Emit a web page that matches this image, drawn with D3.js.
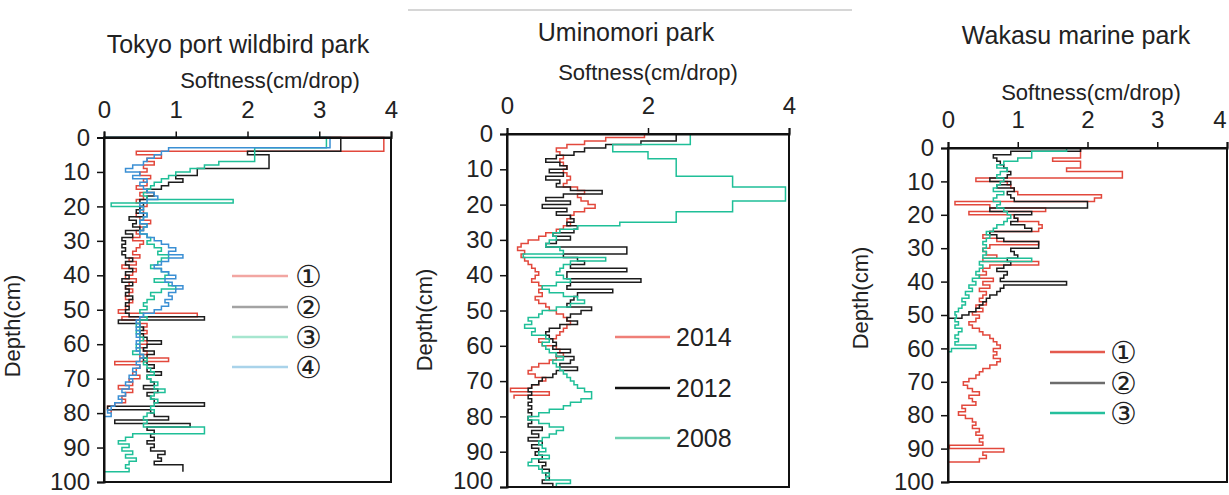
<!DOCTYPE html>
<html><head><meta charset="utf-8">
<script src="https://cdn.jsdelivr.net/npm/d3@7"></script>
<style>
body{margin:0;background:#fff}
svg{display:block}
text{font-family:"Liberation Sans",Arial,sans-serif;fill:#222}
</style>
</head><body>
<svg id="c" width="1229" height="495"></svg>
<script>
// ---------------- DATA (softness per 1-cm depth step, index = depth in cm) ----------------
const panelTitles = ["Tokyo port wildbird park", "Uminomori park", "Wakasu marine park"];
const xAxisTitle = "Softness(cm/drop)";
const yAxisTitle = "Depth(cm)";
const depthTicks = [0,10,20,30,40,50,60,70,80,90,100];
const softTicksA = [0,1,2,3,4];
const softTicksB = [0,2,4];

const tokyoNames = ["①","②","③","④"];
const tokyo1 = [3.9,3.9,3.9,3.9,0.45,0.8,0.6,0.7,0.55,0.6,0.5,0.65,0.55,0.6,0.45,0.6,0.5,0.55,0.45,0.6,
  0.5,0.55,0.45,0.5,0.65,0.5,0.55,0.45,0.5,0.4,0.55,0.5,0.45,0.4,0.5,0.35,0.45,0.25,0.45,0.4,
  0.3,0.45,0.35,0.3,0.4,0.35,0.3,0.4,0.35,0.3,0.2,1.3,0.25,0.5,0.6,0.55,0.6,0.5,0.55,0.6,
  0.5,0.55,0.6,0.5,0.9,0.15,0.5,0.45,0.4,0.5,0.35,0.4,0.2,0.4,0.3,0.25,0.3,0.15,0.05,0.1];
const tokyo2 = [3.3,3.3,3.3,3.3,2.0,2.3,2.3,2.3,2.3,1.3,1.3,1.0,1.1,0.9,0.8,0.6,0.7,0.6,0.5,0.55,
  0.5,0.45,0.55,0.35,0.45,0.4,0.5,0.3,0.4,0.25,0.3,0.25,0.3,0.25,0.3,0.4,0.3,0.35,0.4,0.3,
  0.35,0.25,0.4,0.3,0.35,0.3,0.4,0.35,0.3,0.35,0.3,0.35,1.4,0.2,0.5,0.55,0.5,0.55,0.6,0.8,
  0.6,0.55,0.7,0.6,0.55,0.6,0.7,0.6,0.8,0.6,0.65,0.7,0.55,0.75,0.6,0.65,0.7,1.4,0.05,0.65,
  0.7,0.9,0.15,1.2,0.6,0.7,0.65,0.7,0.6,0.7,0.65,0.85,0.75,0.8,0.7,1.1,1.1];
const tokyo3 = [3.1,3.1,3.1,2.1,2.1,2.1,2.1,1.6,1.4,1.2,1.0,0.9,0.8,0.7,0.65,0.6,0.55,0.6,1.8,0.1,
  0.55,0.5,0.6,0.55,0.5,0.6,0.55,0.5,0.6,0.65,0.6,0.7,0.8,0.75,0.9,0.8,0.75,0.65,0.8,0.9,
  0.85,0.7,0.9,1.0,0.8,0.65,0.7,0.6,0.55,0.6,0.5,0.55,0.6,0.5,0.45,0.5,0.45,0.5,0.55,0.5,
  0.45,0.5,0.4,0.55,0.6,0.55,0.6,0.65,0.7,0.6,0.65,0.75,0.7,0.85,0.7,0.65,0.75,0.7,0.65,0.7,
  0.6,0.55,0.6,0.55,1.4,1.4,0.4,0.3,0.2,0.35,0.25,0.4,0.3,0.45,0.35,0.3,0.35,0];
const tokyo4 = [3.15,3.15,3.15,0.9,0.8,0.7,0.6,0.55,0.4,0.3,0.5,0.4,0.6,0.5,0.55,0.6,0.7,0.75,0.6,0.5,
  0.55,0.5,0.6,0.55,0.5,0.6,0.55,0.5,0.6,0.7,0.8,0.9,1.0,0.9,1.1,0.9,0.8,0.7,0.8,0.9,
  1.0,0.85,0.95,1.1,1.0,0.9,0.95,0.85,0.9,0.8,0.7,0.55,0.5,0.45,0.5,0.45,0.5,0.45,0.5,0.45,
  0.5,0.45,0.5,0.55,0.5,0.45,0.5,0.4,0.45,0.35,0.4,0.3,0.35,0.25,0.3,0.2,0.25,0.15,0.1,0.05,
  0.1,0.0];

const umiNames = ["2014","2012","2008"];
const umi2014 = [1.95,1.4,1.1,0.85,0.7,0.75,0.8,0.75,0.8,0.85,0.8,0.85,0.9,0.85,0.8,1.0,1.1,1.0,1.05,1.15,
  1.25,1.1,0.95,0.9,0.85,0.9,0.8,0.7,0.55,0.45,0.3,0.2,0.15,0.25,0.2,0.25,0.3,0.35,0.4,0.45,
  0.4,0.35,0.45,0.5,0.45,0.5,0.4,0.45,0.55,0.6,0.7,0.8,0.85,0.9,0.85,0.8,0.75,0.7,0.45,0.5,
  0.7,0.75,0.8,0.7,0.6,0.45,0.35,0.3,0.4,0.55,0.45,0.35,0.05,0.6,0.1];
const umi2012 = [2.4,2.4,1.9,1.4,1.1,0.95,0.7,0.55,0.75,0.85,0.6,0.8,0.55,0.75,0.7,0.9,1.35,0.8,0.55,0.9,
  0.5,0.85,0.7,0.9,0.95,0.85,1.0,0.95,0.65,0.9,0.7,0.55,1.7,1.7,0.8,1.0,1.1,0.9,1.7,0.85,
  0.85,1.9,0.9,0.85,1.5,1.0,0.95,0.9,0.85,1.2,1.05,0.9,0.85,1.0,0.75,0.6,0.55,0.6,0.65,0.7,
  0.65,0.9,0.7,0.95,0.9,0.75,1.0,0.7,0.65,0.5,0.45,0.35,0.3,0.35,0.3,0.35,0.3,0.35,0.3,0.35,
  0.3,0.35,0.3,0.5,0.35,0.45,0.3,0.5,0.35,0.45,0.4,0.5,0.45,0.55,0.5,0.6,0.55,0.6,0.5,0.65];
const umi2008 = [2.6,2.6,2.6,1.5,1.5,2.0,2.0,2.4,2.4,2.4,2.4,2.4,3.2,3.2,3.2,3.95,3.95,3.95,3.95,3.2,
  3.2,3.2,2.4,2.4,2.4,1.6,1.0,0.75,0.65,0.7,0.6,0.55,0.75,0.8,0.23,1.4,0.9,0.8,0.75,0.7,
  0.8,0.9,0.7,0.5,0.6,0.8,1.0,1.1,0.9,0.7,0.5,0.45,0.3,0.35,0.25,0.4,0.35,0.55,0.6,0.5,
  0.55,0.6,0.7,0.8,0.65,0.7,0.75,0.8,0.85,0.9,0.95,1.0,1.1,1.2,1.2,1.05,0.9,0.8,0.6,0.45,
  0.3,0.45,0.6,0.8,0.7,0.6,0.5,0.45,0.5,0.55,0.45,0.6,0.35,0.3,0.45,0.5,0.6,0.55,0.9,0.7];

const wakaNames = ["①","②","③"];
const waka1 = [1.9,1.9,1.9,1.5,1.9,1.9,1.7,2.5,2.5,0.4,0.85,0.9,0.95,1.0,2.2,2.1,0.1,0.6,1.4,0.3,
  0.95,1.0,1.3,1.35,1.3,0.6,0.5,0.7,1.3,0.6,0.5,0.55,0.7,0.5,1.3,0.6,0.5,0.55,0.45,0.65,
  0.5,0.6,0.45,0.55,0.5,0.45,0.55,0.4,0.5,0.35,0.45,0.4,0.3,0.35,0.45,0.5,0.6,0.65,0.7,0.75,
  0.65,0.7,0.65,0.75,0.7,0.6,0.5,0.45,0.4,0.3,0.22,0.28,0.35,0.45,0.3,0.35,0.4,0.2,0.25,0.15,
  0.25,0.35,0.4,0.35,0.45,0.4,0.5,0.45,0.5,0.02,0.8,0.5,0.55,0.45,0.0];
const waka2 = [1.9,0.9,0.65,0.7,0.75,0.8,0.85,0.9,0.85,0.6,0.9,0.7,0.95,0.85,0.9,0.95,2.0,2.0,0.6,1.2,
  0.95,1.0,0.9,1.1,1.2,0.6,0.7,0.8,1.3,1.3,0.9,0.95,1.0,0.85,0.9,0.8,0.7,0.85,0.8,0.75,
  1.7,0.8,0.75,0.7,0.6,0.55,0.5,0.45,0.4,0.3,0.2,0.0];
const waka3 = [1.7,1.2,1.2,1.0,0.8,0.7,0.85,0.75,0.7,0.8,0.75,0.7,0.65,0.8,0.7,0.65,0.75,0.7,0.8,0.85,
  0.9,0.85,0.8,0.7,0.65,0.55,0.6,0.55,0.5,0.55,0.5,0.55,0.5,1.2,0.45,0.5,0.45,0.4,0.45,0.35,
  0.4,0.3,0.35,0.25,0.3,0.2,0.25,0.2,0.15,0.1,0.12,0.1,0.15,0.1,0.2,0.15,0.1,0.15,0.1,0.4,
  0.05,0.0];

// ---------------- DRAWING ----------------
const svg = d3.select("#c");
const RED="#e2483c", BLK="#1c1c1c", TEAL="#1fbf98", BLUE="#3a8fd4";

const panels = [
  {title:panelTitles[0], tx:238, ty:53, sx:270, sy:88, x0:104, x1:391, y0:137.5, y1:482,
   ticks:softTicksA, ylab:[20,326],
   series:[{v:tokyo1,c:RED},{v:tokyo2,c:BLK},{v:tokyo3,c:TEAL},{v:tokyo4,c:BLUE}],
   legend:{names:tokyoNames, cols:["#f2a6a2","#a3a3a3","#a6e6cf","#a9d3ea"], lx0:232, lx1:288, ys:[276,307,337,367], tx:295, cjk:true}},
  {title:panelTitles[1], tx:626, ty:41, sx:648, sy:80, x0:507, x1:789, y0:134, y1:487,
   ticks:softTicksB, ylab:[432,320],
   series:[{v:umi2014,c:RED},{v:umi2012,c:BLK},{v:umi2008,c:TEAL}],
   legend:{names:umiNames, cols:["#ef7f78","#111111","#6fd2b2"], lx0:615, lx1:670, ys:[337,388,438], tx:676, cjk:false}},
  {title:panelTitles[2], tx:1076, ty:44, sx:1091, sy:100, x0:948, x1:1227, y0:148, y1:482,
   ticks:softTicksA, ylab:[868,298],
   series:[{v:waka1,c:RED},{v:waka2,c:BLK},{v:waka3,c:TEAL}],
   legend:{names:wakaNames, cols:["#e45a4e","#6c6c6c","#25bf9c"], lx0:1050, lx1:1105, ys:[352,383,413], tx:1110, cjk:true}}
];

// thin grey separator line at the top
svg.append("line").attr("x1",408).attr("x2",852).attr("y1",10).attr("y2",10)
  .attr("stroke","#c8c8c8").attr("stroke-width",1.5);

panels.forEach(p=>{
  const x = d3.scaleLinear().domain([0,4]).range([p.x0,p.x1]);
  const y = d3.scaleLinear().domain([0,100]).range([p.y0,p.y1]);
  const g = svg.append("g");
  const line = d3.line().x(d=>x(d[0])).y(d=>y(d[1]));
  p.series.forEach(s=>{
    const pts=[[0,0]];
    s.v.forEach((v,i)=>{pts.push([v,i]);pts.push([v,i+1]);});
    g.append("path").attr("d",line(pts)).attr("fill","none")
      .attr("stroke",s.c).attr("stroke-width",1.5).attr("stroke-linejoin","miter");
  });
  // frame
  g.append("rect").attr("x",p.x0).attr("y",p.y0).attr("width",p.x1-p.x0).attr("height",p.y1-p.y0)
    .attr("fill","none").attr("stroke","#111").attr("stroke-width",2);
  // axes
  const ax = g.append("g").attr("transform",`translate(0,${p.y0})`)
    .call(d3.axisTop(x).tickValues(p.ticks).tickSize(6).tickPadding(14).tickFormat(d3.format("d")));
  const ay = g.append("g").attr("transform",`translate(${p.x0},0)`)
    .call(d3.axisLeft(y).tickValues(depthTicks).tickSize(7).tickPadding(7).tickFormat(d3.format("d")));
  [ax,ay].forEach(a=>{
    a.select(".domain").attr("stroke","#111").attr("stroke-width",2);
    a.selectAll(".tick line").attr("stroke","#111").attr("stroke-width",1.5);
    a.selectAll(".tick text").attr("font-size",24).attr("fill","#333")
      .attr("font-family","'Liberation Sans',Arial,sans-serif");
  });
  // keep the last x tick label inside the picture when the frame touches the right edge
  ax.selectAll(".tick text").filter(d=>x(d)>1210).attr("text-anchor","end").attr("dx","-1");
  // keep the "100" label from being clipped at the bottom edge
  ay.selectAll(".tick text").filter(d=>y(d)>484).attr("dy","0.05em");
  // titles
  svg.append("text").attr("x",p.tx).attr("y",p.ty).attr("text-anchor","middle")
    .attr("font-size",25).text(p.title);
  svg.append("text").attr("x",p.sx).attr("y",p.sy).attr("text-anchor","middle")
    .attr("font-size",22).attr("fill","#444").text(xAxisTitle);
  svg.append("text").attr("transform",`translate(${p.ylab[0]},${p.ylab[1]}) rotate(-90)`)
    .attr("text-anchor","middle").attr("font-size",22).attr("fill","#444").text(yAxisTitle);
  // legend
  const L=p.legend;
  L.names.forEach((n,i)=>{
    svg.append("line").attr("x1",L.lx0).attr("x2",L.lx1).attr("y1",L.ys[i]).attr("y2",L.ys[i])
      .attr("stroke",L.cols[i]).attr("stroke-width",2.5);
    svg.append("text").attr("x",L.tx).attr("y",L.ys[i]).attr("dy","0.36em")
      .attr("font-size",L.cjk?30:25)
      .attr("font-family",L.cjk?"'Noto Sans CJK JP','DejaVu Sans',sans-serif":"'Liberation Sans',Arial,sans-serif")
      .attr("font-weight",L.cjk?300:400)
      .attr("fill","#333").text(n);
  });
});
</script>
</body></html>
